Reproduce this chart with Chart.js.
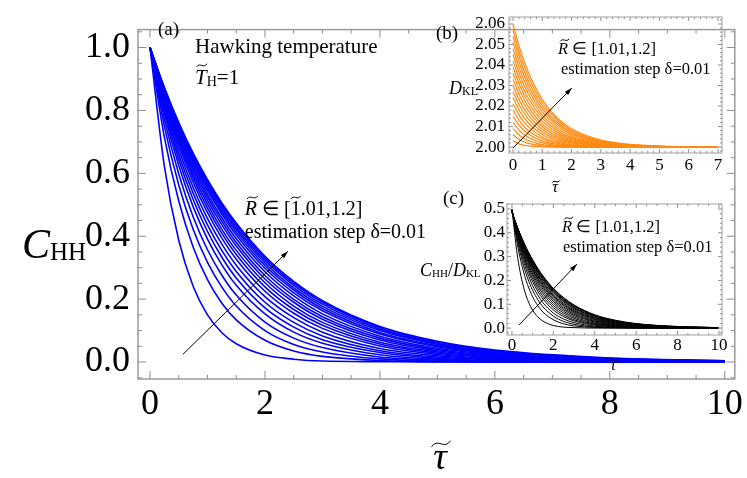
<!DOCTYPE html>
<html>
<head>
<meta charset="utf-8">
<script src="https://cdn.jsdelivr.net/npm/chart.js@4.4.1/dist/chart.umd.min.js"></script>
<style>
  body { margin: 0; background: #fff; }
  #wrap { position: relative; width: 747px; height: 478px; }
  canvas { position: absolute; }
</style>
</head>
<body>
<div id="wrap">
  <canvas id="main" width="747" height="478" style="left:0;top:0;width:747px;height:478px"></canvas>
  <canvas id="insetB" width="347" height="200" style="left:400px;top:0;width:347px;height:200px"></canvas>
  <canvas id="insetC" width="347" height="195" style="left:400px;top:185px;width:347px;height:195px"></canvas>
</div>
<script>
// R~ values, one curve per value
const rValues = ['1.01', '1.02', '1.03', '1.04', '1.05', '1.06', '1.07', '1.08', '1.09', '1.10',
                 '1.11', '1.12', '1.13', '1.14', '1.15', '1.16', '1.17', '1.18', '1.19', '1.20'];

// (a) C_HH vs tau
const tauMain = [0, 0.25, 0.5, 0.75, 1, 1.25, 1.5, 2, 2.5, 3, 4, 5, 6, 8, 10];
const chh101 = [1, 0.622, 0.387, 0.241, 0.150, 0.093, 0.058, 0.022, 0.009, 0.003, 0.001, 0, 0, 0, 0];
const chh102 = [1, 0.715, 0.512, 0.366, 0.262, 0.187, 0.134, 0.069, 0.035, 0.018, 0.005, 0.001, 0, 0, 0];
const chh103 = [1, 0.750, 0.563, 0.422, 0.317, 0.238, 0.178, 0.100, 0.056, 0.032, 0.010, 0.003, 0.001, 0, 0];
const chh104 = [1, 0.773, 0.598, 0.462, 0.357, 0.276, 0.213, 0.127, 0.076, 0.046, 0.016, 0.006, 0.002, 0, 0];
const chh105 = [1, 0.791, 0.625, 0.494, 0.391, 0.309, 0.244, 0.153, 0.095, 0.060, 0.023, 0.009, 0.004, 0.001, 0];
const chh106 = [1, 0.803, 0.644, 0.517, 0.415, 0.333, 0.267, 0.172, 0.111, 0.071, 0.030, 0.012, 0.005, 0.001, 0];
const chh107 = [1, 0.813, 0.660, 0.537, 0.436, 0.354, 0.288, 0.190, 0.126, 0.083, 0.036, 0.016, 0.007, 0.001, 0];
const chh108 = [1, 0.822, 0.675, 0.555, 0.456, 0.375, 0.308, 0.208, 0.141, 0.095, 0.043, 0.020, 0.009, 0.002, 0];
const chh109 = [1, 0.830, 0.689, 0.572, 0.475, 0.394, 0.327, 0.225, 0.155, 0.107, 0.051, 0.024, 0.011, 0.003, 0.001];
const chh110 = [1, 0.836, 0.699, 0.585, 0.489, 0.409, 0.342, 0.239, 0.167, 0.117, 0.057, 0.028, 0.014, 0.003, 0.001];
const chh111 = [1, 0.842, 0.708, 0.596, 0.502, 0.422, 0.355, 0.252, 0.178, 0.126, 0.063, 0.032, 0.016, 0.004, 0.001];
const chh112 = [1, 0.847, 0.717, 0.607, 0.514, 0.436, 0.369, 0.264, 0.190, 0.136, 0.070, 0.036, 0.019, 0.005, 0.001];
const chh113 = [1, 0.851, 0.724, 0.616, 0.525, 0.447, 0.380, 0.275, 0.199, 0.144, 0.076, 0.040, 0.021, 0.006, 0.002];
const chh114 = [1, 0.855, 0.732, 0.626, 0.535, 0.458, 0.392, 0.287, 0.210, 0.153, 0.082, 0.044, 0.024, 0.007, 0.002];
const chh115 = [1, 0.860, 0.739, 0.635, 0.546, 0.470, 0.404, 0.298, 0.220, 0.163, 0.089, 0.049, 0.027, 0.008, 0.002];
const chh116 = [1, 0.863, 0.745, 0.642, 0.554, 0.478, 0.413, 0.307, 0.229, 0.170, 0.094, 0.052, 0.029, 0.009, 0.003];
const chh117 = [1, 0.866, 0.749, 0.649, 0.562, 0.486, 0.421, 0.315, 0.236, 0.177, 0.100, 0.056, 0.031, 0.010, 0.003];
const chh118 = [1, 0.868, 0.754, 0.655, 0.568, 0.494, 0.428, 0.323, 0.244, 0.184, 0.104, 0.059, 0.034, 0.011, 0.004];
const chh119 = [1, 0.871, 0.758, 0.660, 0.575, 0.500, 0.436, 0.330, 0.250, 0.190, 0.109, 0.063, 0.036, 0.012, 0.004];
const chh120 = [1, 0.873, 0.761, 0.664, 0.580, 0.506, 0.442, 0.336, 0.256, 0.195, 0.113, 0.066, 0.038, 0.013, 0.004];

// (b) D_KL vs tau
const tauB = [0, 0.25, 0.5, 1, 1.5, 2, 3, 4, 5, 7];
const dkl101 = [2.0030, 2.0013, 2.0006, 2.0001, 2, 2, 2, 2, 2, 2];
const dkl102 = [2.0060, 2.0033, 2.0019, 2.0006, 2.0002, 2.0001, 2, 2, 2, 2];
const dkl103 = [2.0090, 2.0054, 2.0033, 2.0012, 2.0004, 2.0002, 2, 2, 2, 2];
const dkl104 = [2.0120, 2.0076, 2.0049, 2.0020, 2.0008, 2.0003, 2.0001, 2, 2, 2];
const dkl105 = [2.0150, 2.0099, 2.0066, 2.0029, 2.0013, 2.0006, 2.0001, 2, 2, 2];
const dkl106 = [2.0180, 2.0122, 2.0083, 2.0039, 2.0018, 2.0008, 2.0002, 2, 2, 2];
const dkl107 = [2.0210, 2.0146, 2.0102, 2.0049, 2.0024, 2.0011, 2.0003, 2.0001, 2, 2];
const dkl108 = [2.0240, 2.0170, 2.0121, 2.0061, 2.0031, 2.0015, 2.0004, 2.0001, 2, 2];
const dkl109 = [2.0270, 2.0195, 2.0141, 2.0073, 2.0038, 2.0020, 2.0005, 2.0001, 2, 2];
const dkl110 = [2.0300, 2.0219, 2.0161, 2.0086, 2.0046, 2.0025, 2.0007, 2.0002, 2.0001, 2];
const dkl111 = [2.0330, 2.0244, 2.0181, 2.0099, 2.0054, 2.0030, 2.0009, 2.0003, 2.0001, 2];
const dkl112 = [2.0360, 2.0269, 2.0201, 2.0112, 2.0063, 2.0035, 2.0011, 2.0003, 2.0001, 2];
const dkl113 = [2.0390, 2.0294, 2.0222, 2.0126, 2.0072, 2.0041, 2.0013, 2.0004, 2.0001, 2];
const dkl114 = [2.0420, 2.0320, 2.0243, 2.0141, 2.0081, 2.0047, 2.0016, 2.0005, 2.0002, 2];
const dkl115 = [2.0450, 2.0345, 2.0265, 2.0156, 2.0092, 2.0054, 2.0019, 2.0007, 2.0002, 2];
const dkl116 = [2.0480, 2.0371, 2.0287, 2.0171, 2.0102, 2.0061, 2.0022, 2.0008, 2.0003, 2];
const dkl117 = [2.0510, 2.0396, 2.0308, 2.0186, 2.0112, 2.0068, 2.0025, 2.0009, 2.0003, 2];
const dkl118 = [2.0540, 2.0422, 2.0329, 2.0201, 2.0122, 2.0075, 2.0028, 2.0010, 2.0004, 2.0001];
const dkl119 = [2.0570, 2.0447, 2.0351, 2.0216, 2.0133, 2.0082, 2.0031, 2.0012, 2.0004, 2.0001];
const dkl120 = [2.0600, 2.0473, 2.0373, 2.0231, 2.0143, 2.0089, 2.0034, 2.0013, 2.0005, 2.0001];

// (c) C_HH / D_KL vs tau
const tauC = [0, 0.25, 0.5, 0.75, 1, 1.25, 1.5, 2, 2.5, 3, 4, 5, 6, 8, 10];
const ratio101 = [0.499, 0.311, 0.193, 0.120, 0.075, 0.047, 0.029, 0.011, 0.004, 0.002, 0, 0, 0, 0, 0];
const ratio102 = [0.499, 0.357, 0.256, 0.183, 0.131, 0.094, 0.067, 0.035, 0.018, 0.009, 0.003, 0.001, 0, 0, 0];
const ratio103 = [0.498, 0.374, 0.281, 0.211, 0.158, 0.119, 0.089, 0.050, 0.028, 0.016, 0.005, 0.002, 0.001, 0, 0];
const ratio104 = [0.497, 0.385, 0.298, 0.231, 0.178, 0.138, 0.106, 0.063, 0.038, 0.023, 0.008, 0.003, 0.001, 0, 0];
const ratio105 = [0.496, 0.394, 0.311, 0.246, 0.195, 0.154, 0.122, 0.076, 0.048, 0.030, 0.012, 0.005, 0.002, 0.001, 0];
const ratio106 = [0.496, 0.399, 0.321, 0.258, 0.207, 0.166, 0.133, 0.086, 0.055, 0.035, 0.015, 0.006, 0.003, 0.001, 0];
const ratio107 = [0.495, 0.404, 0.328, 0.268, 0.218, 0.177, 0.144, 0.095, 0.063, 0.041, 0.018, 0.008, 0.004, 0.001, 0];
const ratio108 = [0.494, 0.408, 0.336, 0.276, 0.227, 0.187, 0.154, 0.104, 0.070, 0.047, 0.021, 0.010, 0.005, 0.001, 0];
const ratio109 = [0.493, 0.411, 0.342, 0.285, 0.237, 0.196, 0.163, 0.112, 0.077, 0.053, 0.025, 0.012, 0.006, 0.002, 0.001];
const ratio110 = [0.493, 0.413, 0.347, 0.291, 0.243, 0.204, 0.171, 0.119, 0.083, 0.058, 0.028, 0.014, 0.007, 0.002, 0.001];
const ratio111 = [0.492, 0.416, 0.351, 0.296, 0.250, 0.210, 0.177, 0.126, 0.089, 0.063, 0.031, 0.016, 0.008, 0.002, 0.001];
const ratio112 = [0.491, 0.418, 0.355, 0.301, 0.256, 0.217, 0.184, 0.132, 0.095, 0.068, 0.035, 0.018, 0.010, 0.003, 0.001];
const ratio113 = [0.490, 0.419, 0.358, 0.305, 0.261, 0.222, 0.189, 0.137, 0.099, 0.072, 0.038, 0.020, 0.011, 0.003, 0.001];
const ratio114 = [0.490, 0.421, 0.362, 0.310, 0.266, 0.228, 0.195, 0.143, 0.104, 0.076, 0.041, 0.022, 0.012, 0.004, 0.001];
const ratio115 = [0.489, 0.423, 0.365, 0.314, 0.271, 0.234, 0.201, 0.149, 0.110, 0.081, 0.044, 0.024, 0.013, 0.004, 0.001];
const ratio116 = [0.488, 0.424, 0.367, 0.317, 0.275, 0.237, 0.205, 0.153, 0.114, 0.085, 0.047, 0.026, 0.015, 0.005, 0.002];
const ratio117 = [0.488, 0.425, 0.369, 0.321, 0.278, 0.241, 0.209, 0.157, 0.118, 0.088, 0.050, 0.028, 0.016, 0.005, 0.002];
const ratio118 = [0.487, 0.425, 0.371, 0.323, 0.281, 0.245, 0.213, 0.161, 0.121, 0.092, 0.052, 0.030, 0.017, 0.006, 0.002];
const ratio119 = [0.486, 0.426, 0.372, 0.325, 0.284, 0.248, 0.217, 0.164, 0.125, 0.095, 0.054, 0.031, 0.018, 0.006, 0.002];
const ratio120 = [0.485, 0.426, 0.374, 0.327, 0.287, 0.251, 0.219, 0.167, 0.128, 0.097, 0.056, 0.033, 0.019, 0.007, 0.002];

const chhSeries = [chh101, chh102, chh103, chh104, chh105, chh106, chh107, chh108, chh109, chh110,
                   chh111, chh112, chh113, chh114, chh115, chh116, chh117, chh118, chh119, chh120];
const dklSeries = [dkl101, dkl102, dkl103, dkl104, dkl105, dkl106, dkl107, dkl108, dkl109, dkl110,
                   dkl111, dkl112, dkl113, dkl114, dkl115, dkl116, dkl117, dkl118, dkl119, dkl120];
const ratioSeries = [ratio101, ratio102, ratio103, ratio104, ratio105, ratio106, ratio107, ratio108, ratio109, ratio110,
                     ratio111, ratio112, ratio113, ratio114, ratio115, ratio116, ratio117, ratio118, ratio119, ratio120];

const SERIF = '"Liberation Serif", "Times New Roman", serif';
const f = (size, style) => (style ? style + ' ' : '') + size + 'px ' + SERIF;

function drawTilde(ctx, cx, cy, w, h) {
    ctx.beginPath();
    ctx.moveTo(cx - w / 2, cy + h);
    ctx.bezierCurveTo(cx - w / 6, cy - 2.2 * h, cx + w / 6, cy + 2.2 * h, cx + w / 2, cy - h);
    ctx.lineWidth = 1;
    ctx.strokeStyle = '#000';
    ctx.stroke();
}

function drawRich(ctx, x, y, parts, align) {
    ctx.textBaseline = 'middle';
    ctx.textAlign = 'left';
    ctx.fillStyle = '#000';
    let total = 0;
    parts.forEach(p => { ctx.font = p.font; total += ctx.measureText(p.t).width; });
    let cx = align === 'center' ? x - total / 2 : x;
    parts.forEach(p => {
        ctx.font = p.font;
        const w = ctx.measureText(p.t).width;
        const yy = y + (p.dy || 0);
        ctx.fillText(p.t, cx, yy);
        if (p.tilde) {
            const size = parseFloat(p.font.match(/([\d.]+)px/)[1]);
            drawTilde(ctx, cx + w / 2 + (p.tx || 0), yy - size * (p.ty || 0.6), Math.max(w * 0.9, size * 0.5), size * 0.08);
        }
        cx += w;
    });
}

function drawArrow(ctx, x0, y0, x1, y1) {
    ctx.strokeStyle = '#000';
    ctx.fillStyle = '#000';
    ctx.lineWidth = 1;
    ctx.beginPath();
    ctx.moveTo(x0, y0);
    ctx.lineTo(x1, y1);
    ctx.stroke();
    const ang = Math.atan2(y1 - y0, x1 - x0), head = 8;
    ctx.beginPath();
    ctx.moveTo(x1, y1);
    ctx.lineTo(x1 - head * Math.cos(ang - 0.3), y1 - head * Math.sin(ang - 0.3));
    ctx.lineTo(x1 - head * Math.cos(ang + 0.3), y1 - head * Math.sin(ang + 0.3));
    ctx.closePath();
    ctx.fill();
}

// frame with inward ticks on all four sides + texts and arrows
const frameDecor = {
    id: 'frameDecor',
    afterDatasetsDraw(chart, args, o) {
        const ctx = chart.ctx, a = chart.chartArea, xs = chart.scales.x, ys = chart.scales.y;
        ctx.save();
        ctx.strokeStyle = o.tickColor;
        ctx.lineWidth = 1;
        const marks = (scale, minor, major, cb) => {
            const start = Math.ceil(scale.min / minor - 1e-9);
            for (let k = start; k * minor <= scale.max + 1e-9; k++) {
                const v = k * minor;
                const isMajor = Math.abs(v / major - Math.round(v / major)) < 1e-6;
                cb(scale.getPixelForValue(v), isMajor ? o.majorLen : o.minorLen);
            }
        };
        ctx.beginPath();
        marks(xs, o.xMinor, o.xMajor, (p, len) => {
            ctx.moveTo(p, a.bottom); ctx.lineTo(p, a.bottom - len);
            ctx.moveTo(p, a.top); ctx.lineTo(p, a.top + len);
        });
        marks(ys, o.yMinor, o.yMajor, (p, len) => {
            ctx.moveTo(a.left, p); ctx.lineTo(a.left + len, p);
            ctx.moveTo(a.right, p); ctx.lineTo(a.right - len, p);
        });
        ctx.stroke();
        ctx.strokeStyle = o.frameColor;
        ctx.lineWidth = o.frameWidth;
        ctx.strokeRect(a.left, a.top, a.right - a.left, a.bottom - a.top);

        (o.arrows || []).forEach(ar => {
            drawArrow(ctx, xs.getPixelForValue(ar.from[0]), ys.getPixelForValue(ar.from[1]),
                xs.getPixelForValue(ar.to[0]), ys.getPixelForValue(ar.to[1]));
        });
        (o.notes || []).forEach(n => {
            drawRich(ctx, xs.getPixelForValue(n.at[0]), ys.getPixelForValue(n.at[1]), n.parts);
        });
        (o.labels || []).forEach(l => drawRich(ctx, l.x, l.y, l.parts, l.align));
        ctx.restore();
    }
};
Chart.register(frameDecor);

function makeDatasets(tau, series, color, width) {
    return series.map((vals, i) => ({
        label: 'R = ' + rValues[i],
        data: tau.map((t, j) => ({ x: t, y: vals[j] })),
        borderColor: color,
        borderWidth: width,
        pointRadius: 0,
        fill: false,
        cubicInterpolationMode: 'monotone'
    }));
}

function axis(min, max, step, fontSize, pad, fmt, fit) {
    return {
        type: 'linear', min: min, max: max,
        grid: { display: false, drawTicks: false },
        border: { display: false },
        ticks: {
            stepSize: step, includeBounds: false, autoSkip: false, maxRotation: 0,
            padding: pad, color: '#000', font: { family: SERIF, size: fontSize },
            callback: fmt
        },
        afterFit: fit
    };
}

function baseOptions(padding, scales, decor) {
    return {
        responsive: false, animation: false, devicePixelRatio: 1,
        layout: { padding: padding },
        plugins: { legend: { display: false }, tooltip: { enabled: false }, frameDecor: decor },
        scales: scales
    };
}

const rangeParts = (size, tildeOne) => [
    { t: 'R', font: f(size, 'italic'), tilde: true, tx: 1.5 },
    { t: ' \u2208 [', font: f(size) },
    { t: '1', font: f(size), tilde: tildeOne },
    { t: '.01,1.2]', font: f(size) }
];
const stepParts = size => [{ t: 'estimation step \u03b4=0.01', font: f(size) }];
const tauParts = size => [{ t: '\u03c4', font: f(size, 'italic'), tilde: true, tx: 1, ty: 0.4 }];

// main panel (a)
new Chart(document.getElementById('main'), {
    type: 'line',
    data: { datasets: makeDatasets(tauMain, chhSeries, '#0000ff', 1.6) },
    options: baseOptions({ left: 0, top: 10, right: 12, bottom: 0 }, {
        x: axis(-0.209, 10.174, 2, 36, 4, v => v, s => { s.height = 99; }),
        y: axis(-0.054, 1.057, 0.2, 36, 8, v => v.toFixed(1), s => { s.width = 138; })
    }, {
        tickColor: '#8c8c8c', frameColor: '#9a9a9a', frameWidth: 1.5,
        majorLen: 8, minorLen: 4, xMinor: 0.5, xMajor: 2, yMinor: 0.05, yMajor: 0.2,
        arrows: [{ from: [0.57, 0.024], to: [2.40, 0.352] }],
        notes: [
            { at: [1.65, 0.485], parts: rangeParts(20, true) },
            { at: [1.65, 0.41], parts: stepParts(20) }
        ],
        labels: [
            { x: 158, y: 30, parts: [{ t: '(a)', font: f(19) }] },
            { x: 195, y: 47, parts: [{ t: 'Hawking temperature', font: f(21) }] },
            { x: 195, y: 78, parts: [{ t: 'T', font: f(21, 'italic'), tilde: true, tx: 1 }, { t: 'H', font: f(14), dy: 4 }, { t: '=1', font: f(21) }] },
            { x: 22, y: 247, parts: [{ t: 'C', font: f(42, 'italic') }, { t: 'HH', font: f(25), dy: 6 }] },
            { x: 440, y: 459, align: 'center', parts: tauParts(38) }
        ]
    })
});

// inset (b)
new Chart(document.getElementById('insetB'), {
    type: 'line',
    data: { datasets: makeDatasets(tauB, dklSeries, '#ff8a10', 1.2) },
    options: baseOptions({ left: 0, top: 17, right: 25, bottom: 0 }, {
        x: axis(-0.137, 7.137, 1, 17, 2, v => v, s => { s.height = 47; }),
        y: axis(1.9971, 2.0634, 0.01, 17, 4, v => v.toFixed(2), s => { s.width = 109; })
    }, {
        tickColor: '#8c8c8c', frameColor: '#a0a0a0', frameWidth: 1,
        majorLen: 4, minorLen: 2, xMinor: 0.2, xMajor: 1, yMinor: 0.002, yMajor: 0.01,
        arrows: [{ from: [0, 1.9995], to: [2.01, 2.0288] }],
        notes: [
            { at: [1.54, 2.0473], parts: rangeParts(16.5, false) },
            { at: [1.64, 2.0376], parts: stepParts(16.5) }
        ],
        labels: [
            { x: 36, y: 34, parts: [{ t: '(b)', font: f(19) }] },
            { x: 49, y: 89, parts: [{ t: 'D', font: f(18, 'italic') }, { t: 'KL', font: f(12), dy: 3 }] },
            { x: 155, y: 188, align: 'center', parts: tauParts(16) }
        ]
    })
});

// inset (c)
new Chart(document.getElementById('insetC'), {
    type: 'line',
    data: { datasets: makeDatasets(tauC, ratioSeries, '#000000', 1) },
    options: baseOptions({ left: 0, top: 19, right: 25, bottom: 0 }, {
        x: axis(-0.24, 10.145, 2, 17, 0, v => v, s => { s.height = 45; }),
        y: axis(-0.029, 0.521, 0.1, 17, 2, v => v.toFixed(1), s => { s.width = 107; })
    }, {
        tickColor: '#8c8c8c', frameColor: '#a0a0a0', frameWidth: 1,
        majorLen: 4, minorLen: 2, xMinor: 0.5, xMajor: 2, yMinor: 0.02, yMajor: 0.1,
        arrows: [{ from: [0.34, 0.013], to: [3.14, 0.269] }],
        notes: [
            { at: [2.42, 0.42], parts: rangeParts(16.5, false) },
            { at: [2.46, 0.336], parts: stepParts(16.5) }
        ],
        labels: [
            { x: 43, y: 14, parts: [{ t: '(c)', font: f(19) }] },
            { x: 20, y: 86, parts: [
                { t: 'C', font: f(18, 'italic') }, { t: 'HH', font: f(11), dy: 3 },
                { t: '/', font: f(18) },
                { t: 'D', font: f(18, 'italic') }, { t: 'KL', font: f(11), dy: 3 }] },
            { x: 213, y: 181, align: 'center', parts: tauParts(16) }
        ]
    })
});
</script>
</body>
</html>
